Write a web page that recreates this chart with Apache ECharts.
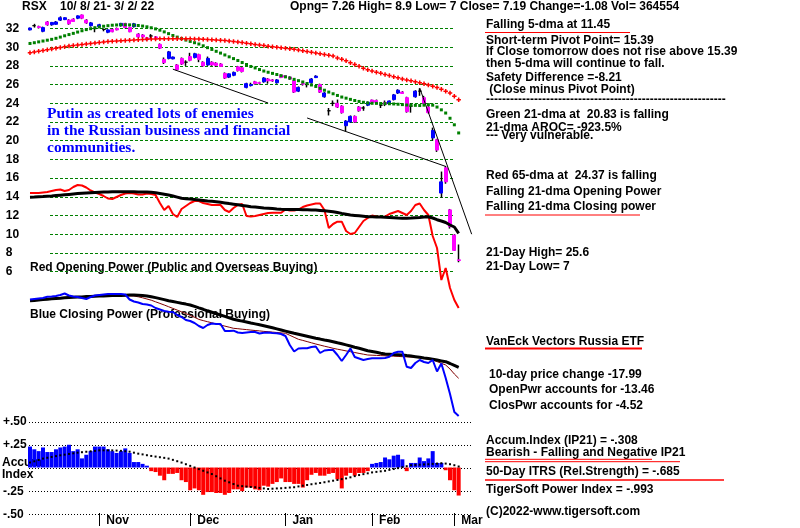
<!DOCTYPE html>
<html><head><meta charset="utf-8">
<script src="https://cdn.jsdelivr.net/npm/echarts@6/dist/echarts.min.js"></script>
<style>html,body{margin:0;padding:0;background:#fff}#c{width:800px;height:528px}</style>
</head><body><div id="c"></div><script>
// ---------------- DATA ----------------
const dates = ['2021-10-08','2021-10-11','2021-10-12','2021-10-13','2021-10-14','2021-10-15','2021-10-18','2021-10-19','2021-10-20','2021-10-21','2021-10-22','2021-10-25','2021-10-26','2021-10-27','2021-10-28','2021-10-29',
'2021-11-01','2021-11-02','2021-11-03','2021-11-04','2021-11-05','2021-11-08','2021-11-09','2021-11-10','2021-11-11','2021-11-12','2021-11-15','2021-11-16','2021-11-17','2021-11-18','2021-11-19','2021-11-22','2021-11-23','2021-11-24','2021-11-26','2021-11-29','2021-11-30',
'2021-12-01','2021-12-02','2021-12-03','2021-12-06','2021-12-07','2021-12-08','2021-12-09','2021-12-10','2021-12-13','2021-12-14','2021-12-15','2021-12-16','2021-12-17','2021-12-20','2021-12-21','2021-12-22','2021-12-23','2021-12-27','2021-12-28','2021-12-29','2021-12-30','2021-12-31',
'2022-01-03','2022-01-04','2022-01-05','2022-01-06','2022-01-07','2022-01-10','2022-01-11','2022-01-12','2022-01-13','2022-01-14','2022-01-18','2022-01-19','2022-01-20','2022-01-21','2022-01-24','2022-01-25','2022-01-26','2022-01-27','2022-01-28','2022-01-31',
'2022-02-01','2022-02-02','2022-02-03','2022-02-04','2022-02-07','2022-02-08','2022-02-09','2022-02-10','2022-02-11','2022-02-14','2022-02-15','2022-02-16','2022-02-17','2022-02-18','2022-02-22','2022-02-23','2022-02-24','2022-02-25','2022-02-28',
'2022-03-01','2022-03-02'];
const padDates = ['2022-03-03','2022-03-04','2022-03-07','2022-03-08'];
const monthNames = ['Jan','Feb','Mar','Apr','May','Jun','Jul','Aug','Sep','Oct','Nov','Dec'];

const opens = [31.85,32.3,32.2,31.7,32.7,32.4,32.45,32.9,32.95,32.9,
33.0,33.1,33.45,32.9,32.3,32.0,32.2,31.9,31.6,31.9,
32.0,32.3,32.55,32.1,32.2,31.4,31.3,31.0,31.2,31.1,
30.3,28.7,28.8,28.75,28.1,28.8,28.4,29.0,28.9,29.2,
28.4,28.1,28.4,28.3,28.2,27.2,26.8,27.0,27.9,27.8,
25.7,25.9,26.3,26.2,26.3,26.6,26.5,26.2,27.0,26.95,
26.8,26.4,25.3,26.1,26.0,26.2,26.75,26.0,24.7,23.2,
24.0,24.0,23.7,21.6,22.0,22.6,23.6,23.5,23.8,24.35,
24.3,23.8,24.1,24.0,24.4,25.1,25.2,24.6,23.7,24.7,
25.3,24.6,23.6,20.3,20.1,14.4,17.1,12.6,9.9,7.26];
const closes = [32.05,32.3,32.1,32.1,32.4,32.65,32.7,33.15,33.15,32.5,
32.75,33.35,33.1,32.6,32.6,32.0,32.4,31.9,31.85,31.65,
31.85,32.55,32.1,31.65,32.5,31.1,31.1,30.8,31.2,31.0,
29.9,28.35,29.5,28.95,27.6,28.2,28.4,28.6,29.3,28.7,
28.0,28.8,28.1,28.05,27.95,26.7,27.15,27.3,27.5,27.4,
26.1,26.0,26.1,26.15,26.7,26.4,26.4,26.5,26.75,26.8,
26.6,25.2,25.7,26.05,26.0,26.6,26.9,25.2,25.1,23.2,
24.0,23.6,23.0,22.1,22.6,22.0,23.2,23.5,24.1,24.1,
24.1,23.8,23.9,24.25,24.9,25.4,25.05,23.1,23.7,25.3,
25.3,24.0,23.0,21.1,19.0,15.6,15.6,10.8,8.27,7.19];
const lows = [31.8,32.1,32.0,31.6,32.3,32.3,32.4,32.8,32.9,32.4,
32.7,33.0,33.0,32.5,32.2,31.6,32.1,31.7,31.5,31.6,
31.8,32.2,32.0,31.6,32.1,31.0,31.0,30.7,30.9,30.9,
29.8,28.2,28.7,28.7,27.5,28.1,28.0,28.5,28.8,28.4,
27.9,28.0,28.0,27.9,27.9,26.6,26.7,26.9,27.4,27.3,
25.6,25.8,26.0,26.0,26.2,26.1,26.3,26.1,26.7,26.7,
26.5,25.1,25.2,25.9,25.7,26.1,26.7,25.1,24.6,22.7,
23.7,23.5,22.9,21.0,21.9,21.9,23.1,23.2,23.7,24.0,
24.0,23.5,23.7,23.9,24.3,25.0,25.0,23.0,23.0,24.6,
24.8,23.9,22.9,20.0,18.8,13.9,15.4,10.6,8.2,7.0];
const highs = [32.1,32.5,32.3,32.2,32.8,32.7,32.8,33.3,33.2,33.0,
33.1,33.4,33.5,33.0,32.7,32.2,32.5,32.0,31.9,32.0,
32.1,32.6,32.6,32.2,32.6,31.5,31.4,31.1,31.4,31.2,
30.4,28.9,29.6,29.0,28.2,28.9,28.6,29.4,29.4,29.3,
28.5,29.0,28.5,28.4,28.3,27.3,27.2,27.4,28.0,27.9,
26.2,26.2,26.4,26.3,26.8,26.7,26.6,26.6,27.1,27.0,
26.9,26.5,25.8,26.3,26.2,26.7,27.0,26.1,25.2,23.5,
24.3,24.4,23.8,22.2,22.7,22.7,23.7,23.7,24.2,24.4,
24.4,24.0,24.3,24.3,25.0,25.5,25.3,24.7,24.0,25.4,
25.6,24.8,23.7,21.4,20.2,16.7,17.3,12.7,10.0,8.9];

const ma21 = [30.40,30.48,30.57,30.66,30.75,30.84,30.95,31.08,31.22,31.35,
31.48,31.62,31.76,31.88,31.98,32.08,32.16,32.24,32.30,32.35,
32.38,32.40,32.40,32.39,32.36,32.32,32.26,32.18,32.08,31.96,
31.82,31.64,31.45,31.25,31.08,30.92,30.76,30.62,30.48,30.34,
30.15,29.95,29.76,29.56,29.37,29.17,28.97,28.78,28.58,28.36,
28.15,27.94,27.78,27.61,27.45,27.32,27.20,27.08,26.95,26.83,
26.70,26.56,26.42,26.28,26.12,25.96,25.80,25.60,25.40,25.20,
25.02,24.84,24.67,24.55,24.42,24.30,24.20,24.11,24.03,24.00,
23.99,23.98,23.97,23.95,23.93,23.90,23.86,23.82,23.80,23.78,
23.76,23.80,23.86,23.80,23.60,23.30,22.96,22.40,21.70,20.83];
const ma65 = [29.40,29.48,29.56,29.64,29.72,29.80,29.88,29.96,30.05,30.13,
30.18,30.24,30.30,30.35,30.40,30.45,30.50,30.55,30.60,30.63,
30.66,30.69,30.72,30.75,30.77,30.80,30.83,30.86,30.88,30.89,
30.90,30.90,30.91,30.91,30.91,30.91,30.90,30.90,30.89,30.88,
30.85,30.83,30.80,30.77,30.74,30.71,30.67,30.62,30.56,30.49,
30.43,30.36,30.30,30.24,30.18,30.11,30.05,30.00,29.94,29.88,
29.83,29.77,29.69,29.61,29.53,29.45,29.37,29.29,29.21,29.13,
29.06,28.85,28.70,28.55,28.35,28.15,27.95,27.75,27.60,27.45,
27.33,27.21,27.09,26.97,26.85,26.73,26.61,26.50,26.40,26.30,
26.20,26.08,25.96,25.83,25.70,25.50,25.30,25.10,24.75,24.37];

// trendlines: [dayIndex, price]
const trend1 = [[33,27.65],[55,24.03]];
const trend2 = [[64,22.43],[96,17.25]];
const trend3 = [[90,25.64],[102,10.0]];

const openPower = [127,127,127,127.5,128,129,130,130.5,129,130,
133,135,134.5,132.5,129.5,127.5,126,124,121.5,121,
123,125,126.5,127,126.5,125.5,125.5,126.5,126,125,
117,110,114,106,103,111,114,117,119,119,
117,116,115,115,115,110,108,112,115,116,
104,103.5,104,105,106,107,107.3,107.3,107.3,110.5,
109.5,109.5,110.5,113,114.5,115.5,116.5,116.5,110,92,
96,98.3,98.3,89,86,87,93,99,102,104.5,
103.5,103,103.3,106,107.5,109,107,105,109,115,
116.5,110,105,84,72,40,52,32,20,12];
const openPowerMA = [122.7,122.9,123.2,123.4,123.7,124.0,124.4,124.8,125.2,125.6,
126.0,126.4,126.7,127.0,127.3,127.6,127.8,128.0,128.1,128.2,
128.3,128.3,128.3,128.2,128.2,128.1,128.0,127.9,127.7,127.2,
126.5,125.8,125.0,124.0,122.9,121.7,121.3,120.9,120.5,120.1,
119.6,119.1,118.7,118.3,117.7,117.1,116.4,115.8,115.2,114.6,
114.0,113.3,112.9,112.5,112.1,111.8,111.4,111.0,110.7,110.6,
110.5,110.4,110.4,110.3,110.2,110.1,110.0,109.6,109.2,108.8,
108.3,107.5,106.6,105.8,105.0,104.6,104.2,103.8,103.3,103.2,
103.1,102.9,102.7,102.5,102.2,101.9,101.7,101.8,102.0,102.3,
102.5,102.9,103.3,102.0,100.3,99.0,97.5,95.0,93.0,86.7];

const closePower = [120.5,121,121.5,122,123.3,123.5,124,125,126.5,124.5,
123.5,123,122,121,123,124.5,125,125.5,126,126,
126,126,125.5,120.5,118.5,117.5,116,115.5,114.5,112,
110.5,109,108.3,108,105,103,100,99,97,94,
92,95,96.5,96,96,89,89,89.3,87.5,87,
87.5,88,88,86.5,87.3,87.5,87,86.7,86,84,
75,68.5,71.5,71.7,71.7,73,73.5,67,69.5,70,
70,65,59,65,71.5,63,61.5,60,61,61.7,
61.7,61.7,62,63.3,67,68.3,68.3,53.3,52,57,
60,58,57,60,48.5,56.5,42,26,8,4];
const closePowerMA = [119.3,119.6,120.0,120.4,120.8,121.2,121.5,121.8,122.2,122.5,
122.7,122.9,123.1,123.4,123.6,123.8,124.0,124.1,124.3,124.4,
124.5,124.6,124.7,124.9,125.0,124.8,124.4,124.0,123.3,122.4,
121.4,120.4,119.3,118.5,117.6,116.7,115.9,115.0,113.6,112.1,
110.7,109.2,107.8,106.4,105.0,103.6,102.1,100.7,99.8,98.9,
98.0,97.0,96.1,95.2,94.3,93.3,92.2,91.1,90.0,88.9,
87.8,86.7,85.7,84.7,83.7,82.7,81.7,80.9,80.0,79.2,
78.3,77.2,76.2,75.1,74.0,72.8,71.7,70.5,69.3,68.5,
67.7,66.8,66.0,65.8,65.5,65.3,65.0,64.4,63.9,63.3,
62.7,62.0,61.4,60.7,59.9,59.1,58.3,56.5,54.6,52.7];
const closePowerMA2 = [120.0,120.3,120.6,120.9,121.2,121.5,121.8,122.1,122.4,122.6,
122.8,123.0,123.2,123.4,123.6,123.8,124.0,124.1,124.1,124.2,
124.2,124.2,124.1,124.1,124.0,123.2,122.2,121.0,119.8,118.2,
116.6,115.0,113.3,111.6,109.9,108.2,106.4,104.6,102.7,100.6,
99.4,98.3,97.2,96.1,95.0,93.9,92.8,91.7,91.3,90.8,
90.4,89.9,89.5,89.1,88.6,88.3,87.9,87.5,87.1,86.7,
84.7,82.7,80.7,79.6,78.4,77.2,76.0,74.9,73.8,72.8,
71.7,70.8,70.0,69.1,68.3,67.5,66.6,65.8,65.0,64.8,
64.6,64.4,64.2,64.0,63.8,63.6,63.3,63.1,62.9,62.7,
62.2,61.6,60.9,60.0,58.4,56.7,55.0,51.0,46.0,41.7];

const accum = [.23,.20,.18,.22,.17,.17,.20,.22,.23,.25,
.18,.20,.10,.14,.18,.23,.23,.23,.20,.18,
.16,.18,.21,.16,.06,.06,.04,.02,-.04,-.05,
-.09,-.14,-.07,-.07,-.06,-.14,-.16,-.25,-.23,-.25,
-.30,-.27,-.27,-.28,-.28,-.30,-.28,-.24,-.24,-.26,
-.22,-.22,-.24,-.25,-.20,-.21,-.18,-.16,-.12,-.16,
-.16,-.18,-.18,-.22,-.14,-.08,-.06,-.09,-.09,-.07,
-.06,-.13,-.23,-.09,-.06,-.09,-.06,-.06,-.04,.04,
.05,.06,.11,.09,.13,.14,.09,-.04,.05,.05,
.11,.07,.10,.18,.05,.05,-.03,-.14,-.25,-.308];
const accumMA = [.054,.068,.083,.098,.107,.116,.125,.134,.141,.149,
.156,.163,.168,.173,.178,.183,.188,.189,.189,.188,
.186,.183,.179,.174,.163,.152,.144,.135,.127,.120,
.113,.106,.098,.084,.069,.054,.036,.018,.000,-.018,
-.036,-.054,-.072,-.096,-.120,-.145,-.163,-.182,-.200,-.205,
-.210,-.214,-.217,-.224,-.230,-.236,-.233,-.230,-.228,-.224,
-.220,-.217,-.208,-.200,-.192,-.184,-.177,-.170,-.162,-.153,
-.145,-.137,-.128,-.120,-.108,-.095,-.083,-.073,-.064,-.054,
-.048,-.042,-.036,-.026,-.017,-.007,.004,.014,.025,.028,
.031,.034,.036,.040,.043,.047,.043,.036,.025,.011];

const priceTicks = [6,8,10,12,14,16,18,20,22,24,26,28,30,32];
const accumTickLabels = {'0.5':'+.50','0.25':'+.25','-0.25':'-.25','-0.5':'-.50'};

// ---------------- BUILD ----------------
const cats = dates.concat(padDates);
const monthLabel = {};
for (let i = 1; i < dates.length; i++) {
  const m = +dates[i].slice(5,7), pm = +dates[i-1].slice(5,7);
  if (m !== pm) monthLabel[i] = monthNames[m-1];
}
const isMonthStart = (i) => monthLabel[i] !== undefined;

const wickData = dates.map((d,i) => [opens[i], closes[i], lows[i], highs[i]]);
const bodyData = dates.map((d,i) => {
  const o = opens[i], c = closes[i];
  const item = {value:[o, c, Math.min(o,c), Math.max(o,c)]};
  if (o === c) item.itemStyle = {color:'#000', color0:'#000', borderColor:'#000', borderColor0:'#000'};
  return item;
});

const F = "'Liberation Sans', Arial, sans-serif";
const BOLD12 = "bold 12px " + F;
const L = 27.835, R = 800 - (27.835 + cats.length * 4.33);

function txt(text, x, y, opt) {
  opt = opt || {};
  return {type:'text', z:0, style:{text:text, x:x, y:y, font: opt.font || BOLD12, fill: opt.fill || '#000',
    textAlign:'left', textVerticalAlign:'middle', align:'left', verticalAlign:'middle'}};
}
function ln(x1,y1,x2,y2,w,c) {
  return {type:'line', z:0, shape:{x1:x1,y1:y1,x2:x2,y2:y2}, style:{stroke:c||'#ff0000', lineWidth:w||1}};
}
const serif = "bold 15.5px 'Liberation Serif', 'Times New Roman', serif";

const graphics = [
  txt('RSX', 22, 7), txt('10/ 8/ 21- 3/ 2/ 22', 60, 7),
  txt('Opng= 7.26 High= 8.9 Low= 7 Close= 7.19 Change=-1.08 Vol= 364554', 290, 7),
  txt('Falling 5-dma at 11.45', 486, 25), ln(485,32.5,630,32.5,1),
  txt('Short-term Pivot Point= 15.39', 486, 41),
  txt('If Close tomorrow does not rise above 15.39', 486, 52),
  txt('then 5-dma will continue to fall.', 486, 63.5),
  txt('Safety Difference =-8.21', 486, 78),
  txt(' (Close minus Pivot Point)', 486, 90),
  txt('------------------------------------------------------------', 486, 100),
  txt('Green 21-dma at  20.83 is falling', 486, 115),
  txt('21-dma AROC= -923.5%', 486, 128),
  txt('--- Very vulnerable.', 486, 136),
  txt('Red 65-dma at  24.37 is falling', 486, 176),
  txt('Falling 21-dma Opening Power', 486, 192),
  txt('Falling 21-dma Closing power', 486, 207), ln(485,215,640,215,1),
  txt('21-Day High= 25.6', 486, 253),
  txt('21-Day Low= 7', 486, 266.5),
  txt('VanEck Vectors Russia ETF', 486, 341.5), ln(485,348.5,642,348.5,2),
  txt('10-day price change -17.99', 489, 375),
  txt('OpenPwr accounts for -13.46', 489, 389.5),
  txt('ClosPwr accounts for -4.52', 489, 405.5),
  txt('Accum.Index (IP21) = -.308', 486, 441),
  txt('Bearish - Falling and Negative IP21', 486, 452.5), ln(485,459.3,652,459.3,1), ln(485,461.7,680,461.7,1),
  txt('50-Day ITRS (Rel.Strength) = -.685', 486, 471.5), ln(485,480,724,480,1.5),
  txt('TigerSoft Power Index = -.993', 486, 490),
  txt('(C)2022-www.tigersoft.com', 486, 511.5),
  txt('Red Opening Power (Public and Overseas Buying)', 30, 268),
  txt('Blue Closing Power (Professional Buying)', 30, 315),
  txt('Putin as created lots of enemies', 47, 114, {font:serif, fill:'#0000ff'}),
  txt('in the Russian business and financial', 47, 131, {font:serif, fill:'#0000ff'}),
  txt('communities.', 47, 148, {font:serif, fill:'#0000ff'}),
  txt('Accum.', 2, 463), txt('Index', 2, 475)
];

const hiddenCat = (g) => ({gridIndex:g, type:'category', data:cats, show:false, boundaryGap:true});
const hiddenVal = (g,min,max) => ({gridIndex:g, type:'value', min:min, max:max, show:false});
const plus = 'path://M2,0H4V2H6V4H4V6H2V4H0V2H2Z';

const option = {
  animation:false,
  backgroundColor:'#fff',
  graphic: graphics,
  grid:[
    {left:50, right:347, top:28.5, height:243.1},
    {left:L, right:R, top:28.5, height:243.1},
    {left:L, right:R, top:180, height:140},
    {left:L, right:R, top:280, height:140},
    {left:28, right:327, top:422, height:92.3},
    {left:L, right:R, top:422, height:92.3}
  ],
  xAxis:[
    {gridIndex:0, type:'value', min:0, max:1, show:false},
    hiddenCat(1), hiddenCat(2), hiddenCat(3),
    {gridIndex:4, type:'value', min:0, max:1, show:false},
    {gridIndex:5, type:'category', data:cats, boundaryGap:true, position:'bottom',
      axisLine:{show:false, onZero:false},
      axisTick:{show:true, alignWithLabel:true, interval:(i)=>isMonthStart(i), length:13, lineStyle:{color:'#000', width:1}},
      axisLabel:{interval:(i)=>isMonthStart(i), formatter:(v,i)=>monthLabel[i]||'', align:'left', padding:[0,0,0,7],
        margin:1, color:'#000', fontWeight:'bold', fontSize:12, fontFamily:F, lineHeight:14}}
  ],
  yAxis:[
    {gridIndex:0, type:'value', min:6, max:32, interval:2, axisLine:{show:false}, axisTick:{show:false}, axisLabel:{show:false},
      splitLine:{show:true, lineStyle:{color:'#008000', width:1, type:[3,2]}}},
    {gridIndex:1, type:'value', min:6, max:32, interval:2, axisLine:{show:false}, axisTick:{show:false}, splitLine:{show:false},
      axisLabel:{show:true, align:'left', margin:22, color:'#000', fontWeight:'bold', fontSize:12, fontFamily:F, padding:[2,0,0,0],
        formatter:(v)=> priceTicks.indexOf(v) >= 0 ? String(v) : ''}},
    hiddenVal(2,0,140), hiddenVal(3,0,140),
    {gridIndex:4, type:'value', min:-0.5, max:0.5, interval:0.25, axisLine:{show:false}, axisTick:{show:false},
      splitLine:{show:true, lineStyle:{color:'#000', width:1, type:[1,2]}},
      axisLabel:{show:true, align:'left', margin:26, color:'#000', fontWeight:'bold', fontSize:12, fontFamily:F,
        formatter:(v)=> accumTickLabels[String(v)] || ''}},
    hiddenVal(5,-0.5,0.5)
  ],
  series:[
    {type:'candlestick', xAxisIndex:1, yAxisIndex:1, data:wickData, barWidth:1, clip:false, silent:true,
      itemStyle:{color:'#000', color0:'#000', borderColor:'#000', borderColor0:'#000', borderWidth:1.5}},
    {type:'candlestick', xAxisIndex:1, yAxisIndex:1, data:bodyData, barWidth:3.5, clip:false, silent:true,
      itemStyle:{color:'#0000ff', color0:'#ff00ff', borderColor:'#0000ff', borderColor0:'#ff00ff', borderWidth:1}},
    {type:'line', xAxisIndex:1, yAxisIndex:1, data:ma21, symbol:'rect', symbolSize:3, showAllSymbol:true, clip:false,
      lineStyle:{opacity:0}, itemStyle:{color:'#008000'}, silent:true},
    {type:'line', xAxisIndex:1, yAxisIndex:1, data:ma65, symbol:plus, symbolSize:4.5, showAllSymbol:true, clip:false,
      lineStyle:{opacity:0}, itemStyle:{color:'#ff0000'}, silent:true},
    {type:'line', xAxisIndex:1, yAxisIndex:1, data:trend1, symbol:'none', clip:false, lineStyle:{color:'#000', width:1}, silent:true},
    {type:'line', xAxisIndex:1, yAxisIndex:1, data:trend2, symbol:'none', clip:false, lineStyle:{color:'#000', width:1}, silent:true},
    {type:'line', xAxisIndex:1, yAxisIndex:1, data:trend3, symbol:'none', clip:false, lineStyle:{color:'#000', width:1}, silent:true},
    {type:'line', xAxisIndex:2, yAxisIndex:2, data:openPower, symbol:'none', lineStyle:{color:'#ff0000', width:2}, silent:true},
    {type:'line', xAxisIndex:2, yAxisIndex:2, data:openPowerMA, symbol:'none', lineStyle:{color:'#000', width:3}, silent:true},
    {type:'line', xAxisIndex:3, yAxisIndex:3, data:closePowerMA2, symbol:'none', lineStyle:{color:'#800000', width:1}, silent:true},
    {type:'line', xAxisIndex:3, yAxisIndex:3, data:closePowerMA, symbol:'none', lineStyle:{color:'#000', width:3}, silent:true},
    {type:'line', xAxisIndex:3, yAxisIndex:3, data:closePower, symbol:'none', lineStyle:{color:'#0000ff', width:2}, silent:true},
    {type:'bar', xAxisIndex:5, yAxisIndex:5, data:accum, barWidth:4, silent:true,
      itemStyle:{color:(p)=> p.value >= 0 ? '#0000ff' : '#ff0000'}},
    {type:'line', xAxisIndex:5, yAxisIndex:5, data:accumMA, symbol:'rect', symbolSize:2, showAllSymbol:true,
      lineStyle:{opacity:0}, itemStyle:{color:'#000'}, silent:true}
  ]
};
const chart = echarts.init(document.getElementById('c'));
chart.setOption(option);
</script></body></html>
